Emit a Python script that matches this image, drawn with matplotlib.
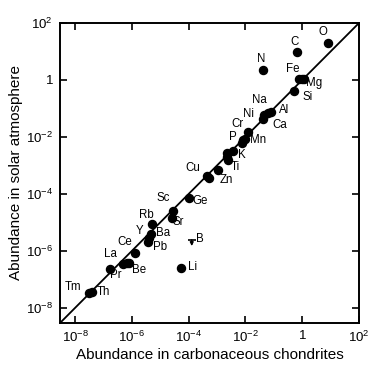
import numpy as np
import matplotlib.pyplot as plt

plt.rcParams['font.family'] = ['Liberation Sans', 'DejaVu Sans']
plt.rcParams['mathtext.fontset'] = 'custom'
plt.rcParams['mathtext.rm'] = 'Liberation Sans'
plt.rcParams['mathtext.it'] = 'Liberation Sans'

## data: log10 abundances (chondrites, solar atmosphere)
elements = ['O', 'C', 'N', 'Fe', '', 'Mg', 'Si', 'Ni', 'Na', 'Ca', 'Al',
            'Cr', 'P', '', 'Mn', 'K', '', '', '', 'Ti', 'Cu', 'Zn', 'Ge',
            'Sc', 'Sr', 'Rb', 'Ba', 'Y', 'Pb', 'Ce', 'La', '', 'Be', 'Pr',
            'Tm', 'Th', 'Li']
log_chond = [0.90, -0.18, -1.37, -0.12, -0.02, 0.07, -0.30, -1.39, -1.33, -1.19, -1.10,
             -1.92, -2.13, -2.07, -2.02, -2.43, -2.66, -2.64, -2.62, -2.95, -3.35, -3.29, -3.98,
             -4.54, -4.60, -5.28, -5.32, -5.38, -5.44, -5.89, -6.30, -6.18, -6.10, -6.77,
             -7.50, -7.41, -4.26]
log_solar = [1.29, 0.98, 0.34, 0.05, 0.05, 0.04, -0.40, -1.36, -1.24, -1.17, -1.11,
             -1.82, -2.21, -2.12, -2.06, -2.48, -2.57, -2.69, -2.81, -3.16, -3.37, -3.43, -4.15,
             -4.60, -4.85, -5.04, -5.41, -5.53, -5.67, -6.06, -6.46, -6.43, -6.41, -6.64,
             -7.48, -7.43, -6.61]
# boron: upper limit only
b_chond, b_solar = -3.89, -5.61

ticks = [-8, -6, -4, -2, 0, 2]
tick_labels = [r'$10^{-8}$', r'$10^{-6}$', r'$10^{-4}$', r'$10^{-2}$', '1', r'$10^{2}$']

# label offsets in pixels (dx, dy)
offsets = {'O': (-5, 11), 'C': (-3, 10), 'N': (-2, 11), 'Fe': (-6, 10), 'Mg': (10, -4),
           'Si': (14, -6), 'Ni': (-14, 5), 'Na': (-5, 15), 'Ca': (11, -12), 'Al': (13, 2),
           'Cr': (-10, 8), 'P': (-9, 6), 'Mn': (13, -1), 'K': (9, -4), 'Ti': (17, 3),
           'Cu': (-14, 8), 'Zn': (18, -2), 'Ge': (11, -3), 'Sc': (-10, 13), 'Sr': (7, -4),
           'Rb': (-6, 9), 'Ba': (12, 1), 'Y': (-10, 7), 'Pb': (12, -5), 'Ce': (-10, 11),
           'La': (-13, 10), 'Be': (10, -7), 'Pr': (6, -6), 'Tm': (-16, 6), 'Th': (12, 0),
           'Li': (11, 1)}

x = np.power(10.0, log_chond)
y = np.power(10.0, log_solar)

fig = plt.figure(figsize=(3.84, 3.67), dpi=100)
ax = fig.add_axes([60/384, 1-323/367, 299/384, 300/367])
ax.set_xscale('log')
ax.set_yscale('log')
lo, hi = 10**-8.53, 10**2
ax.set_xlim(lo, hi)
ax.set_ylim(lo, hi)

ax.plot([lo, hi], [lo, hi], color='black', lw=1.3, zorder=1)
ax.plot(x, y, 'o', color='black', ms=5.8, mec='black', zorder=2)

for name, xi, yi in zip(elements, x, y):
    if name:
        dx, dy = offsets[name]
        ax.annotate(name, (xi, yi), xytext=(dx, dy), textcoords='offset pixels',
                    ha='center', va='center', fontsize=8.3)

bx, by = 10**b_chond, 10**b_solar
ax.plot([bx], [by], marker='_', color='black', ms=6, mew=1.2)
ax.annotate('', xy=(bx, by*10**-0.22), xytext=(bx, by),
            arrowprops=dict(arrowstyle='-|>', color='black', lw=1, mutation_scale=5,
                            shrinkA=0, shrinkB=0))
ax.annotate('B', (bx, by), xytext=(8, 1), textcoords='offset pixels',
            ha='center', va='center', fontsize=8.3)

ax.set_xticks([10.0**t for t in ticks])
ax.set_yticks([10.0**t for t in ticks])
ax.set_xticklabels(tick_labels)
ax.set_yticklabels(tick_labels)
ax.minorticks_off()
ax.tick_params(which='both', direction='in', top=True, right=True, length=5, width=1.2,
               labelsize=9.5, pad=5)
for s in ax.spines.values():
    s.set_linewidth(1.4)

ax.set_xlabel('Abundance in carbonaceous chondrites', fontsize=11, labelpad=2)
ax.set_ylabel('Abundance in solar atmosphere', fontsize=11, labelpad=2)

fig.savefig('out.png', dpi=100)
